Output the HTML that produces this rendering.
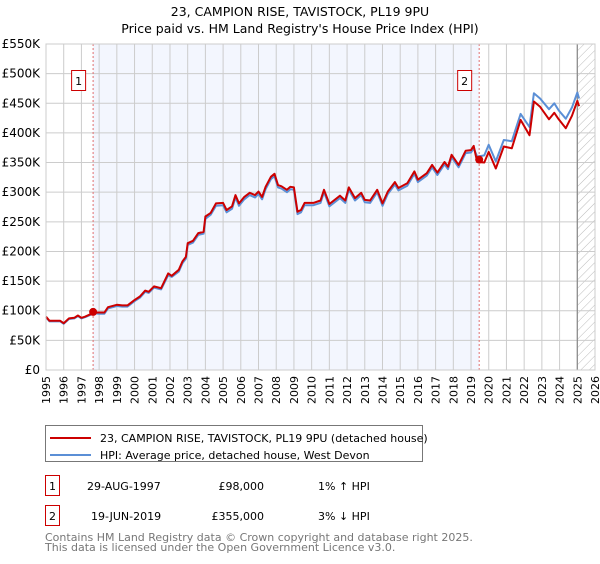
<!DOCTYPE html>
<html><head><meta charset="utf-8"><style>
body{margin:0;background:#fff;font-family:"DejaVu Sans","Liberation Sans",sans-serif;}
svg text{font-family:"DejaVu Sans","Liberation Sans",sans-serif;}
</style></head><body>
<svg id="chart" width="600" height="560" viewBox="0 0 600 560" xmlns="http://www.w3.org/2000/svg">
<defs><pattern id="hatch" width="6" height="6" patternUnits="userSpaceOnUse" patternTransform="rotate(45)"><line x1="0" y1="0" x2="0" y2="6" stroke="#bbb" stroke-width="1"/></pattern></defs>
<text x="300" y="16" text-anchor="middle" font-size="12.5">23, CAMPION RISE, TAVISTOCK, PL19 9PU</text>
<text x="300" y="33" text-anchor="middle" font-size="12.5">Price paid vs. HM Land Registry's House Price Index (HPI)</text>
<g id="plot"></g>
<g>
<rect x="45.5" y="425.5" width="377" height="36" fill="#fff" stroke="#777"/>
<line x1="50" y1="438" x2="91" y2="438" stroke="#cc0000" stroke-width="2"/>
<text x="100" y="442" font-size="11">23, CAMPION RISE, TAVISTOCK, PL19 9PU (detached house)</text>
<line x1="50" y1="455" x2="91" y2="455" stroke="#5b8fd6" stroke-width="2"/>
<text x="100" y="459" font-size="11">HPI: Average price, detached house, West Devon</text>
</g>
<g font-size="11">
<rect x="45.5" y="475.5" width="14" height="20" fill="#fff" stroke="#cc0000"/>
<text x="52.5" y="490" text-anchor="middle">1</text>
<text x="87" y="490">29-AUG-1997</text>
<text x="264" y="490" text-anchor="end">£98,000</text>
<text x="318" y="490">1% ↑ HPI</text>
<rect x="45.5" y="505.5" width="14" height="20" fill="#fff" stroke="#cc0000"/>
<text x="52.5" y="520" text-anchor="middle">2</text>
<text x="91" y="520">19-JUN-2019</text>
<text x="264" y="520" text-anchor="end">£355,000</text>
<text x="318" y="520">3% ↓ HPI</text>
</g>
<text x="45" y="541" font-size="11" fill="#777">Contains HM Land Registry data © Crown copyright and database right 2025.</text>
<text x="45" y="551" font-size="11" fill="#777">This data is licensed under the Open Government Licence v3.0.</text>
</svg>
<script>
const years=[1995,1996,1997,1998,1999,2000,2001,2002,2003,2004,2005,2006,2007,2008,2009,2010,2011,2012,2013,2014,2015,2016,2017,2018,2019,2020,2021,2022,2023,2024,2025,2026];
const yTicks=[0,50000,100000,150000,200000,250000,300000,350000,400000,450000,500000,550000];
const yTickLabels=["£0","£50K","£100K","£150K","£200K","£250K","£300K","£350K","£400K","£450K","£500K","£550K"];
const priceDates=[1995.0,1995.2,1995.5,1995.8,1996.0,1996.3,1996.6,1996.8,1997.0,1997.2,1997.5,1997.66,1998.0,1998.3,1998.5,1999.0,1999.3,1999.6,2000.0,2000.3,2000.6,2000.8,2001.1,2001.5,2001.9,2002.1,2002.5,2002.7,2002.9,2003.0,2003.3,2003.6,2003.9,2004.0,2004.3,2004.6,2005.0,2005.2,2005.5,2005.7,2005.9,2006.2,2006.5,2006.8,2007.0,2007.2,2007.4,2007.7,2007.9,2008.1,2008.3,2008.6,2008.8,2009.0,2009.2,2009.4,2009.6,2010.1,2010.5,2010.7,2011.0,2011.6,2011.9,2012.1,2012.45,2012.8,2013.0,2013.3,2013.7,2014.0,2014.3,2014.7,2014.9,2015.4,2015.8,2016.0,2016.5,2016.8,2017.1,2017.5,2017.7,2017.9,2018.3,2018.7,2019.0,2019.15,2019.35,2019.75,2020.0,2020.4,2020.85,2021.3,2021.8,2022.3,2022.55,2022.9,2023.4,2023.7,2023.95,2024.35,2024.7,2025.0,2025.1];
const priceValues=[90,83,83,83,79,87,88,92,88,90,94,97,97,97,106,110,109,109,118,124,134,132,141,138,163,159,169,183,191,214,218,231,233,259,265,281,282,270,276,295,281,292,299,295,301,292,309,326,331,312,310,304,309,308,267,270,282,282,286,304,280,294,286,308,290,299,287,286,304,281,301,317,307,315,335,321,332,346,333,351,343,363,346,370,371,378,351,350,368,340,377,374,422,396,453,444,423,434,423,408,429,454,445];
const hpiValues=[89,82,82,82,78,86,87,91,87,89,93,96,95,95,104,108,107,107,116,122,132,130,139,136,160,157,166,180,188,211,215,228,230,255,262,277,278,266,272,291,277,288,295,291,297,288,305,322,327,308,306,300,305,304,263,266,278,278,282,300,276,290,282,304,286,295,283,282,300,277,297,313,303,311,331,317,328,342,329,347,339,359,342,366,367,374,360,362,380,352,388,386,432,410,467,458,440,450,438,424,443,468,458];
const sales=[{date:1997.66,value:98000,label:"1"},{date:2019.46,value:355000,label:"2"}];
const NS="http://www.w3.org/2000/svg";
const X0=46,X1=595,Y0=370,Y1=44;
const xs=y=>X0+(y-1995)/(2026-1995)*(X1-X0);
const ys=v=>Y0-v/550000*(Y0-Y1);
const g=document.getElementById('plot');
function mk(tag,attrs,parent){const e=document.createElementNS(NS,tag);for(const k in attrs)e.setAttribute(k,attrs[k]);(parent||g).appendChild(e);return e;}
let r=mk('rect',{x:xs(sales[0].date),y:Y1,width:xs(sales[1].date)-xs(sales[0].date),height:Y0-Y1,fill:'#f3f6fe'});


r=mk('rect',{x:xs(2025.0),y:Y1,width:X1-xs(2025.0),height:Y0-Y1,fill:'url(#hatch)'});


years.forEach(yr=>{const l=mk('line',{x1:xs(yr),x2:xs(yr),y1:Y1,y2:Y0,stroke:'#cccccc','stroke-width':1});


const t=mk('text',{x:0,y:0,'font-size':11,'text-anchor':'end',transform:`translate(${xs(yr)+4},${Y0+6}) rotate(-90)`});
t.textContent=yr;

});
yTicks.forEach((v,i)=>{const l=mk('line',{x1:X0,x2:X1,y1:ys(v),y2:ys(v),stroke:'#cccccc','stroke-width':1});


const t=mk('text',{x:40,y:ys(v)+4,'font-size':12,'text-anchor':'end'});
t.textContent=yTickLabels[i];

});
r=mk('line',{x1:xs(2025.0),x2:xs(2025.0),y1:Y1,y2:Y0,stroke:'#888','stroke-width':1.2});


sales.forEach(s=>{const l=mk('line',{x1:xs(s.date),x2:xs(s.date),y1:Y1,y2:Y0,stroke:'#e07070','stroke-width':1,'stroke-dasharray':'2,2'});


const b=mk('rect',{x:xs(s.date)-21.5,y:70.5,width:14,height:20,fill:'#fff',stroke:'#cc0000'});


const t=mk('text',{x:xs(s.date)-14.5,y:85,'font-size':11,'text-anchor':'middle'});
t.textContent=s.label;

});
function path(vals,color,name){const d=vals.map((v,i)=>(i?'L':'M')+xs(priceDates[i]).toFixed(1)+','+ys(v*1000).toFixed(1)).join('');
const p=mk('path',{d:d,fill:'none',stroke:color,'stroke-width':2,'stroke-linejoin':'round'});

}
path(hpiValues,'#5b8fd6','hpi-line');
path(priceValues,'#cc0000','price-line');
sales.forEach(s=>{const c=mk('circle',{cx:xs(s.date),cy:ys(s.value),r:4,fill:'#cc0000'});

});
r=mk('rect',{x:X0,y:Y1,width:X1-X0,height:Y0-Y1,fill:'none',stroke:'#cccccc'});


</script>
</body></html>
